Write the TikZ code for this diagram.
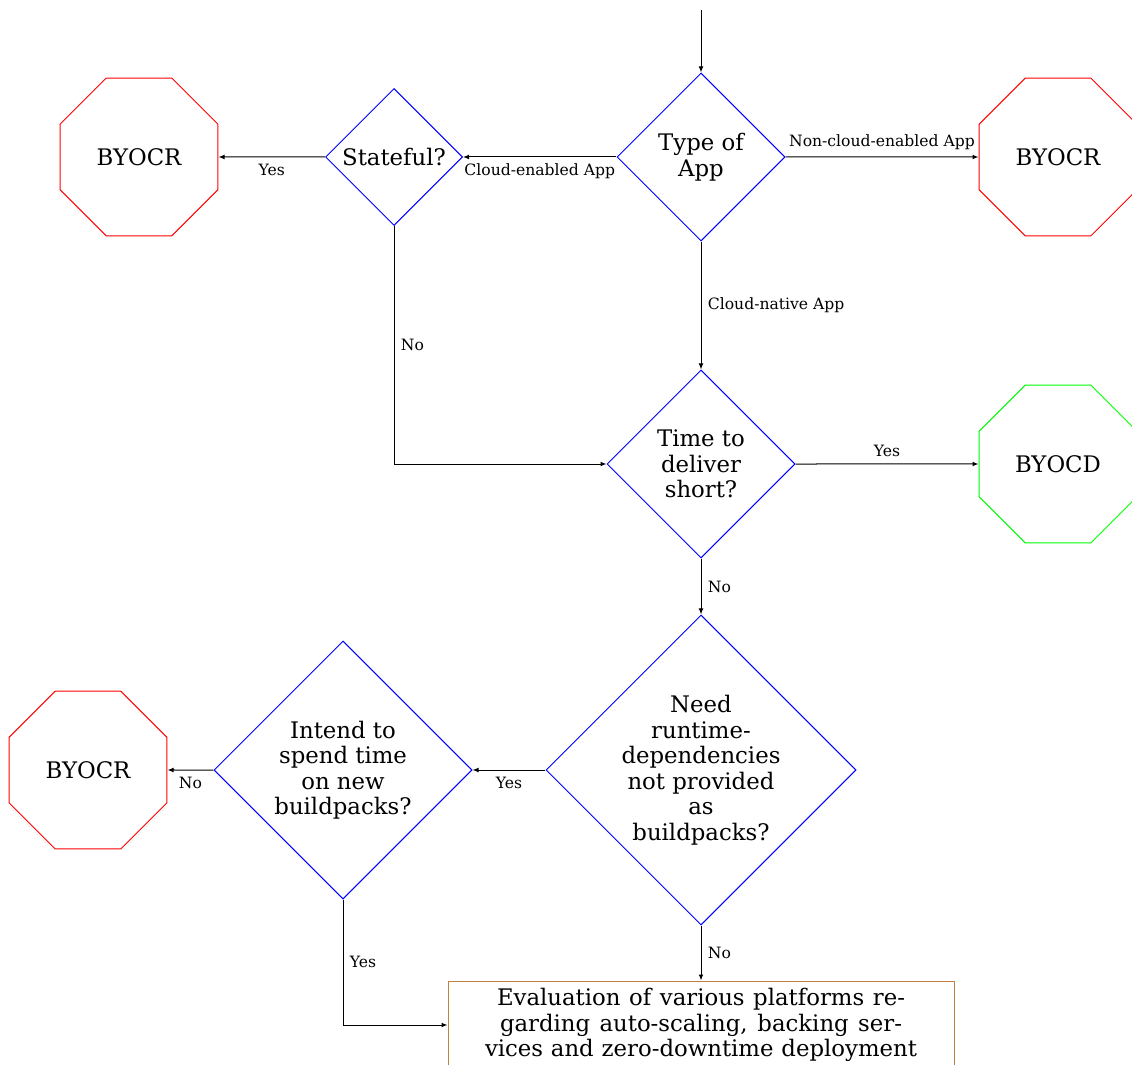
\documentclass[tikz,border=0pt]{standalone}
\usepackage{fontspec}
\setmainfont{DejaVu Serif}
\usetikzlibrary{shapes.geometric,arrows.meta}
\newcommand\flowtextfont{\fontsize{11.4pt}{12.75pt}\selectfont}
\newcommand\flowlabelfont{\fontsize{7.8pt}{9pt}\selectfont}
\begin{document}
\begin{tikzpicture}[x=0.5pt,y=-0.5pt,
  decision/.style={diamond,draw=blue,line width=0.5pt,inner sep=0pt,
    align=center,font=\flowtextfont},
  outcome/.style={regular polygon,regular polygon sides=8,minimum size=85.5pt,
    inner sep=0pt,line width=0.5pt,font=\flowtextfont},
  evalbox/.style={rectangle,draw=brown,line width=0.5pt,align=center,
    minimum width=253pt,minimum height=44pt,inner sep=0pt,font=\flowtextfont},
  conn/.style={draw,line width=0.5pt,-{Latex[length=3pt,width=2.4pt]}},
  lbl/.style={font=\flowlabelfont,inner sep=3.2pt}]
\useasboundingbox (0,0) rectangle (1132,1065);
\clip (0,0) rectangle (1132,1065);

% decisions
\node[decision,minimum width=84pt,minimum height=84pt] (type) at (701,157) {Type of\\App};
\node[decision,minimum width=68.5pt,minimum height=68.5pt] (stateful) at (394,157) {Stateful?};
\node[decision,minimum width=94pt,minimum height=94pt] (time) at (701,464) {Time to\\deliver\\short?};
\node[decision,minimum width=155pt,minimum height=155pt] (need) at (701,770)
  {Need\\runtime-\\dependencies\\not provided\\as\\buildpacks?};
\node[decision,minimum width=129pt,minimum height=129pt] (intend) at (343,770)
  {Intend to\\spend time\\on new\\buildpacks?};

% outcomes
\node[outcome,draw=red] (crleft) at (139,157) {BYOCR};
\node[outcome,draw=red] (crright) at (1058,157) {BYOCR};
\node[outcome,draw=green] (cd) at (1058,464) {BYOCD};
\node[outcome,draw=red] (crlow) at (88,770) {BYOCR};

% final evaluation
\node[evalbox] (eval) at (701,1025)
  {\hbox to 204pt{Evaluation of various platforms re-}\\
   \hbox to 201pt{garding auto-scaling, backing ser-}\\
   \hbox to 216pt{vices and zero-downtime deployment}};

% connectors
\coordinate (entry) at (701,10);
\draw[conn] (entry) -- (type);
\draw[conn] (type) -- node[lbl,above] {Non-cloud-enabled App} (crright);
\draw[conn] (type) -- node[lbl,below] {Cloud-enabled App} (stateful);
\draw[conn] (stateful) -- node[lbl,below] {Yes} (crleft);
\draw[conn] (type) -- node[lbl,right] {Cloud-native App} (time);
\draw[conn] (stateful.south) |- node[lbl,pos=0.25,right] {No} (time.west);
\draw[conn] (time) -- node[lbl,above] {Yes} (cd);
\draw[conn] (time) -- node[lbl,right] {No} (need);
\draw[conn] (need) -- node[lbl,below] {Yes} (intend);
\draw[conn] (intend) -- node[lbl,below] {No} (crlow);
\draw[conn] (intend.south) |- node[lbl,pos=0.25,right] {Yes} (eval.west);
\draw[conn] (need) -- node[lbl,right] {No} (eval);
\end{tikzpicture}
\end{document}
